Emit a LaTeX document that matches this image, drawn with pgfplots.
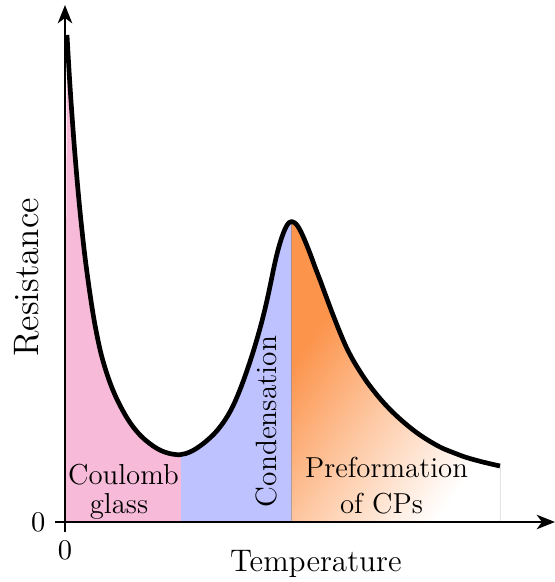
\documentclass[border=0pt]{standalone}
\usepackage{pgfplots}
\pgfplotsset{compat=1.18}
\usepgfplotslibrary{fillbetween}
\usetikzlibrary{arrows.meta}
\definecolor{cgpink}{RGB}{247,187,217}
\definecolor{cgblue}{RGB}{190,194,255}
\definecolor{cgorange}{RGB}{252,148,76}
\pgfdeclareverticalshading{cgfade}{100bp}{color(0bp)=(white); color(26bp)=(white); color(48bp)=(cgorange!50!white); color(68bp)=(cgorange); color(100bp)=(cgorange)}
\begin{document}
\begin{tikzpicture}
\begin{axis}[
  x=0.3846pt, y=0.3846pt,
  xmin=0, xmax=490, ymin=0, ymax=517,
  set layers, axis on top,
  axis lines=left,
  axis line style={line width=1.1pt, -{Stealth[length=7pt,width=5.5pt,inset=2pt]}},
  xtick={0}, ytick={0},
  tick align=outside, major tick length=4pt,
  tick style={line width=0.8pt, black},
  tick label style={font=\fontsize{11}{13}\selectfont},
  clip=false,
  xlabel={Temperature}, ylabel={Resistance},
  xlabel style={at={(axis description cs:0.512,-0.0966)}, anchor=base, font=\fontsize{12}{14}\selectfont},
  ylabel style={at={(axis description cs:-0.0547,0.473)}, anchor=base, font=\fontsize{13.6}{16}\selectfont},
]
\addplot[name path=curve, smooth, tension=0.6, line width=1.8pt, black, line join=round] coordinates {
(2,487) (4,452) (6,421) (8,393) (10,367) (13,332) (16,301) (20,265)
(25,228) (30,197) (36,168.5) (43,145) (50,127) (58,111) (66,98)
(75,87) (84,79) (92,73.5) (100,69.8) (108,67.8) (115,67.3) (121,68.5)
(128,71.5) (135,76) (142,81.5) (149,88) (155,95) (161,103.5) (167,114)
(172,125) (177,137.5) (182,151.5) (187,166.5) (192,183) (197,201)
(201.5,219.5) (205.5,238) (209,255) (212,268) (215,279) (218,288)
(221,295) (224,299.3) (226.7,300.5) (229.5,299.3) (233,295.5) (237,288)
(241.7,277) (246,266) (250,255) (255,242) (260,228.5) (265,215)
(270,202) (275,189.5) (281,175.5) (288,162) (295,150.5) (302,140)
(310,129.5) (318,120) (326,111.5) (335,103) (345,94.5) (355,87)
(366,80) (377,74) (388,69.5) (400,65) (412,61.5) (424,58.5) (435,56)
};
\addplot[draw=none, name path=base] coordinates {(0,0) (490,0)};
\addplot[cgpink, draw=none] fill between[of=curve and base, soft clip={domain=0:116}];
\addplot[cgblue, draw=none] fill between[of=curve and base, soft clip={domain=116:226.7}];
\addplot[draw=none, shade, shading=cgfade, shading angle=55] fill between[of=curve and base, soft clip={domain=226.7:435}];
\node[anchor=base, font=\fontsize{11.1}{13}\selectfont] at (axis cs:58.5,37) {Coulomb};
\node[anchor=base, font=\fontsize{11.1}{13}\selectfont] at (axis cs:54,9) {glass};
\node[anchor=base, font=\fontsize{11.1}{13}\selectfont] at (axis cs:321.5,44) {Preformation};
\node[anchor=base, font=\fontsize{11.1}{13}\selectfont] at (axis cs:316.5,9) {of CPs};
\node[anchor=base, rotate=90, font=\fontsize{11.3}{13}\selectfont] at (axis cs:211,100.5) {Condensation};
\coordinate (ll) at (axis cs:-65,-60);
\coordinate (ur) at (axis cs:490,522);
\end{axis}
\pgfresetboundingbox
\path (ll) rectangle (ur);
\end{tikzpicture}
\end{document}
